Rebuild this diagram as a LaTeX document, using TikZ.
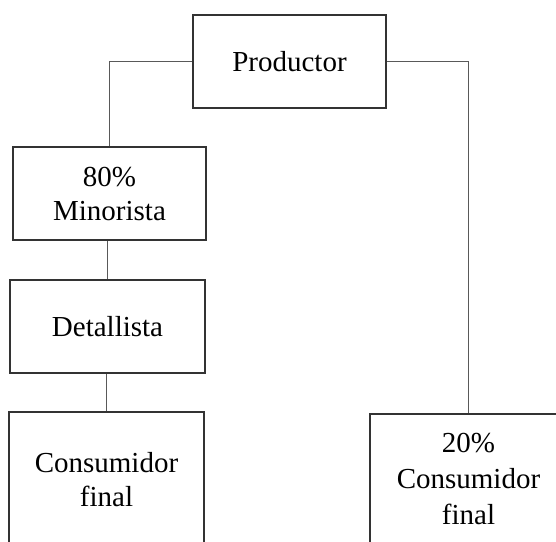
\documentclass[tikz,border=0pt]{standalone}
\usepackage{fontspec}
\setmainfont{Liberation Serif}
\usetikzlibrary{positioning}
\tikzset{
  caja/.style={draw=black!80,line width=1.1pt,rectangle,inner sep=0pt,
    align=center,font=\fontsize{29}{34}\selectfont},
  enlace/.style={draw=black!65,line width=0.7pt}
}
\begin{document}
\begin{tikzpicture}[x=1pt,y=-1pt]
\useasboundingbox (0,0) rectangle (556,541);
\clip (0,0) rectangle (556,541);
% Productor
\node[caja,minimum width=193pt,minimum height=93pt] (prod) at (289.5,61.5) {Productor};
% rama izquierda
\node[caja,minimum width=193pt,minimum height=93pt] (mino) at (109.5,193.5) {80\%\\Minorista};
\node[caja,minimum width=195pt,minimum height=93pt] (deta) at (107.5,326.5) {Detallista};
\node[caja,minimum width=195pt,minimum height=136pt] (consA) at (106.5,480) {Consumidor\\final};
% rama derecha
\node[caja,minimum width=197pt,minimum height=130pt,font=\fontsize{29}{36}\selectfont] (consB) at (468.5,479) {20\%\\Consumidor\\final};
% Enlaces
\draw[enlace] (prod.west) -| (mino.north);
\draw[enlace] (prod.east) -| (consB.north);
\draw[enlace] (deta.north) -- (deta.north |- mino.south);
\draw[enlace] (consA.north) -- (consA.north |- deta.south);
\end{tikzpicture}
\end{document}
